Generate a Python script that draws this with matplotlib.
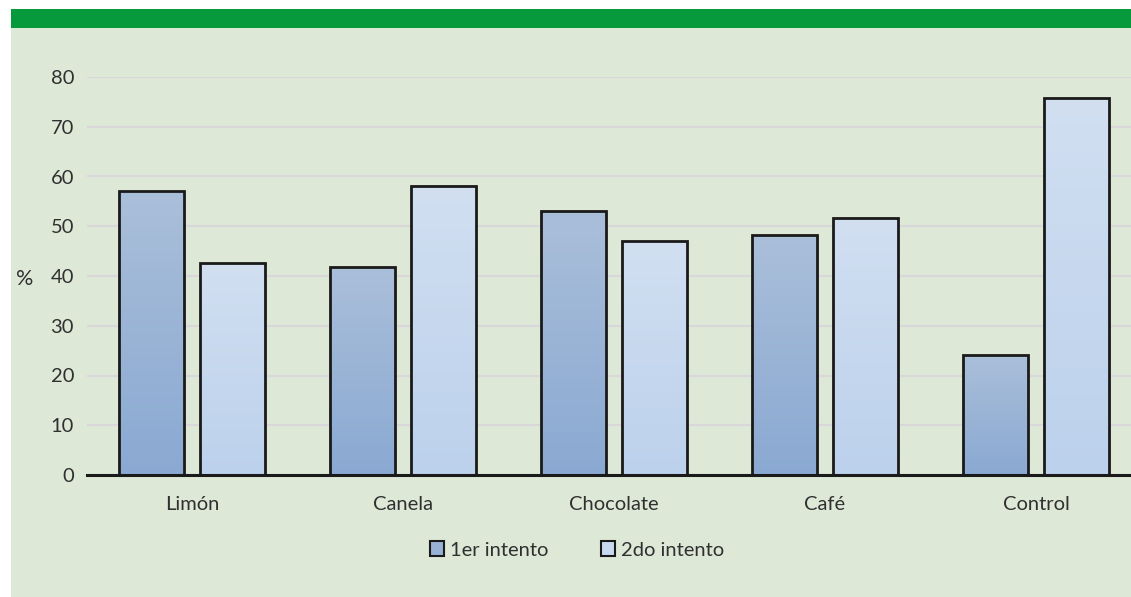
import matplotlib
matplotlib.use("Agg")
import matplotlib.pyplot as plt
import numpy as np
from matplotlib.patches import Rectangle
from matplotlib.colors import LinearSegmentedColormap

categories = ["Limón", "Canela", "Chocolate", "Café", "Control"]
series_names = ["1er intento", "2do intento"]
intento1 = [57.1, 41.8, 53.1, 48.2, 24.1]
intento2 = [42.6, 58.1, 47.0, 51.7, 75.8]
yticks = [0, 10, 20, 30, 40, 50, 60, 70, 80]

plt.rcParams['font.family'] = ['Lato', 'DejaVu Sans']
FS = 14.5
TXT = '#303030'

W, H = 1131, 597
fig = plt.figure(figsize=(W/100, H/100), dpi=100)
fig.patch.set_facecolor('white')

def fx(px): return px / W
def fy(py): return 1 - py / H

# background axes
bg = fig.add_axes([0, 0, 1, 1], zorder=-5)
bg.set_xlim(0, W)
bg.set_ylim(H, 0)
bg.axis('off')
bg.add_patch(Rectangle((11, 27), W - 11, H - 27, facecolor='#dde8d7', edgecolor='none'))
bg.add_patch(Rectangle((11, 9), W - 11, 19, facecolor='#079a3c', edgecolor='none'))

left_px, right_px = 86.5, 1131
top_px, bot_px = 77, 475
ax = fig.add_axes([fx(left_px), fy(bot_px), fx(right_px) - fx(left_px), fy(top_px) - fy(bot_px)], zorder=1)
ax.set_facecolor('none')

x = np.arange(len(categories))
w = 65 / 211
off = 40.5 / 211

cm1 = LinearSegmentedColormap.from_list('c1', ['#8aa9d2', '#aabfda'])
cm2 = LinearSegmentedColormap.from_list('c2', ['#bcd1ec', '#d1dff1'])

grad = np.linspace(0, 1, 256).reshape(-1, 1)

for vals, xo, cm in [(intento1, -off, cm1), (intento2, off, cm2)]:
    bars = ax.bar(x + xo, vals, width=w, facecolor='none', edgecolor='#1a1a1a', linewidth=2, zorder=4)
    for b in bars:
        x0, y0 = b.get_x(), b.get_y()
        bw, bh = b.get_width(), b.get_height()
        im = ax.imshow(grad, extent=[x0, x0 + bw, y0, y0 + bh], origin='lower', cmap=cm,
                       aspect='auto', zorder=3)
        im.set_clip_path(b)

ax.set_xlim(-0.5, (right_px - left_px) / 211 - 0.5)
ax.set_ylim(0, 80)

ax.set_yticks(yticks)
ax.set_yticklabels([str(t) for t in yticks], fontsize=FS, color=TXT)
ax.yaxis.grid(True, color='#d9d7d9', linewidth=1.5, zorder=0)
ax.set_axisbelow(True)
ax.tick_params(axis='y', length=0, pad=9)
ax.set_xticks(x)
ax.set_xticklabels(categories, fontsize=FS, color=TXT)
ax.tick_params(axis='x', length=0, pad=15)
for s in ['top', 'right', 'left']:
    ax.spines[s].set_visible(False)
ax.spines['bottom'].set_linewidth(2.2)
ax.spines['bottom'].set_color('#1a1a1a')
ax.spines['bottom'].set_zorder(5)

fig.text(fx(25), fy(279), '%', fontsize=FS + 1, color=TXT, ha='center', va='center')

# legend
handles = [Rectangle((0, 0), 1, 1, facecolor='#97b2d6', edgecolor='#1a1a1a', linewidth=1.5),
           Rectangle((0, 0), 1, 1, facecolor='#c8daef', edgecolor='#1a1a1a', linewidth=1.5)]
leg = fig.legend(handles, series_names, loc='center', bbox_to_anchor=(fx(577), fy(550)),
                 ncol=2, frameon=False, fontsize=FS, handlelength=0.7, handleheight=0.7,
                 handletextpad=0.3, columnspacing=2.6, labelcolor=TXT)

fig.savefig('out.png', dpi=100, facecolor='white')
